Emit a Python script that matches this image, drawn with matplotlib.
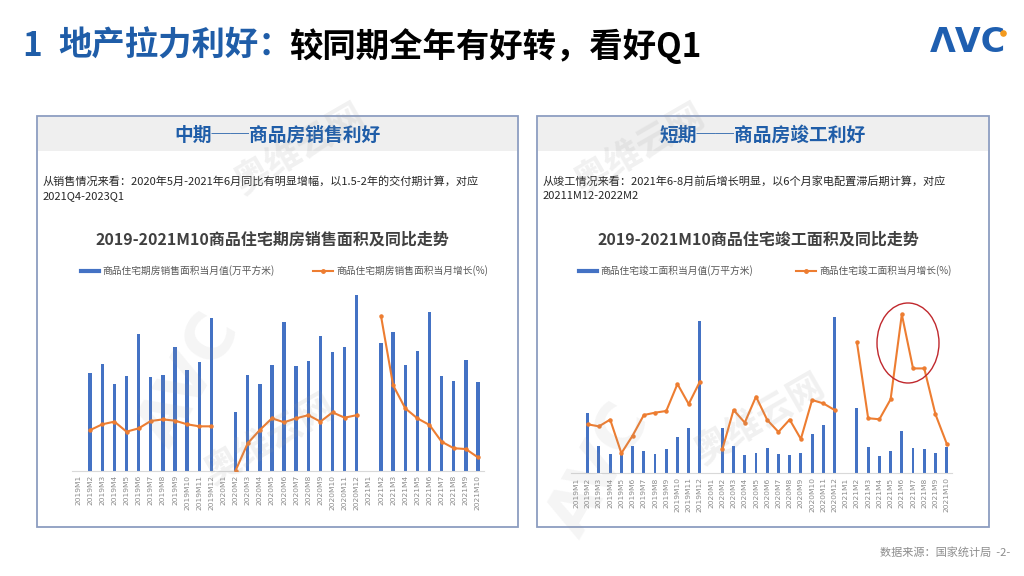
import numpy as np
import matplotlib.pyplot as plt
from matplotlib.patches import Rectangle, Ellipse

plt.rcParams['font.family'] = ['Noto Sans CJK SC', 'DejaVu Sans']

# 横轴月份（1、2月合并公布，M1 为空）
months = [f"{y}M{m}" for y in (2019, 2020) for m in range(1, 13)] + [f"2021M{m}" for m in range(1, 11)]

nan = np.nan
# 商品住宅期房销售面积当月值（万平方米）
sales_area = [nan, 8760, 9630, 7770, 8490, 12300, 8400, 8580, 11160, 9090, 9810, 13770,
              nan, 5310, 8580, 7830, 9540, 13410, 9390, 9900, 12150, 10710, 11160, 15810,
              nan, 11490, 12480, 9540, 10800, 14280, 8490, 8100, 9990, 8010]
# 商品住宅期房销售面积当月增长（%）
sales_yoy = [nan, -1.0, 4.4, 6.9, -2.5, 0.6, 7.5, 9.0, 7.8, 4.4, 2.5, 2.5,
             nan, -39.0, -13.4, -0.9, 10.0, 6.3, 10.0, 13.0, 6.9, 15.6, 10.6, 13.0,
             nan, 106.0, 41.0, 19.4, 10.0, 3.8, -11.9, -18.0, -18.8, -26.6]

# 商品住宅竣工面积当月值（万平方米）
comp_area = [nan, 10800, 4860, 3420, 3300, 4860, 4020, 3420, 4380, 6480, 8100, 27420,
             nan, 8100, 4860, 3240, 3600, 4500, 3420, 3240, 3600, 7020, 8640, 28140,
             nan, 11820, 4680, 3060, 4020, 7560, 4500, 4320, 3600, 4800]
# 商品住宅竣工面积当月增长（%）
comp_yoy = [nan, -8.1, -9.3, -5.3, -25.2, -14.8, -2.6, -1.2, -0.2, 15.8, 3.9, 17.2,
            nan, -22.9, 0.4, -7.1, 8.3, -5.5, -12.6, -5.3, -16.8, 6.3, 4.3, 0.4,
            nan, 40.4, -4.5, -5.1, 6.7, 57.0, 25.0, 25.0, -2.2, -19.5]

BLUE = '#4472C4'
ORANGE = '#ED7D31'
TITLE_BLUE = '#1F5DA8'

fig = plt.figure(figsize=(10.24, 5.76), dpi=100)

# 背景层，像素坐标
bg = fig.add_axes([0, 0, 1, 1], zorder=0)
bg.set_xlim(0, 1024)
bg.set_ylim(576, 0)
bg.axis('off')

# 标题
bg.text(22, 46, "1", fontsize=24, fontweight='bold', color=TITLE_BLUE, va='center')
bg.text(58, 46, "地产拉力利好：", fontsize=24, fontweight='bold', color=TITLE_BLUE, va='center')
bg.text(289, 46, "较同期全年有好转，看好Q1", fontsize=24, fontweight='bold', color='black', va='center')

# logo
bg.text(930, 42, "ΛVC", fontsize=24, fontweight='bold', color='#1F5FB0', va='center',
        family='DejaVu Sans')
bg.scatter([1003], [33], s=14, color='#F39A1E', zorder=3)

# 面板
panels = [
    dict(x0=37, x1=518, head="中期──商品房销售利好",
         desc="从销售情况来看：2020年5月-2021年6月同比有明显增幅，以1.5-2年的交付期计算，对应",
         desc2="2021Q4-2023Q1",
         title="2019-2021M10商品住宅期房销售面积及同比走势",
         leg1="商品住宅期房销售面积当月值(万平方米)", leg2="商品住宅期房销售面积当月增长(%)",
         lx1=81, lx2=313),
    dict(x0=537, x1=989, head="短期──商品房竣工利好",
         desc="从竣工情况来看：2021年6-8月前后增长明显，以6个月家电配置滞后期计算，对应",
         desc2="20211M12-2022M2",
         title="2019-2021M10商品住宅竣工面积及同比走势",
         leg1="商品住宅竣工面积当月值(万平方米)", leg2="商品住宅竣工面积当月增长(%)",
         lx1=579, lx2=796),
]
for p in panels:
    w = p['x1'] - p['x0']
    bg.add_patch(Rectangle((p['x0'], 116), w, 411, facecolor='white',
                           edgecolor='#8C9DC0', lw=1.3))
    bg.add_patch(Rectangle((p['x0'] + 1, 117), w - 2, 34, facecolor='#EFEFEF', lw=0))
    cx = (p['x0'] + p['x1']) / 2
    bg.text(cx, 135, p['head'], fontsize=13.5, fontweight='bold', color=TITLE_BLUE,
            ha='center', va='center')
    bg.text(p['x0'] + 6, 181, p['desc'], fontsize=8, color='#262626', va='center')
    bg.text(p['x0'] + 6, 196, p['desc2'], fontsize=8, color='#262626', va='center')
    bg.text(cx - 5, 240, p['title'], fontsize=11.5, fontweight='bold', color='#404040',
            ha='center', va='center')
    # 图例
    bg.plot([p['lx1'], p['lx1'] + 18], [271, 271], color=BLUE, lw=3)
    bg.text(p['lx1'] + 21, 271, p['leg1'], fontsize=7, color='#595959', va='center')
    bg.plot([p['lx2'], p['lx2'] + 20], [271, 271], color=ORANGE, lw=1.5)
    bg.plot([p['lx2'] + 10], [271], 'o', color=ORANGE, ms=2.5)
    bg.text(p['lx2'] + 23, 271, p['leg2'], fontsize=7, color='#595959', va='center')

# 数据来源
bg.text(1010, 552, "数据来源：国家统计局  -2-", fontsize=8, color='#8C8C8C',
        ha='right', va='center')


def draw_chart(rect, area, yoy, ylim1, ylim2, width):
    ax = fig.add_axes(rect, zorder=1)
    x = np.arange(len(months))
    ax.bar(x, area, width=width, color=BLUE, zorder=2)
    ax.set_xlim(-0.5, len(months) - 0.5)
    ax.set_ylim(*ylim1)
    ax.set_xticks(x)
    ax.set_xticklabels(months, rotation=90, fontsize=5.4, color='#8C8C8C', family='DejaVu Sans')
    ax.tick_params(axis='x', length=0, pad=3)
    ax.set_yticks([])
    for s in ['top', 'left', 'right']:
        ax.spines[s].set_visible(False)
    ax.spines['bottom'].set_color('#D9D9D9')
    ax.patch.set_alpha(0)
    ax2 = ax.twinx()
    ax2.plot(x, yoy, color=ORANGE, lw=1.5, marker='o', ms=2.2)
    ax2.set_ylim(*ylim2)
    ax2.set_yticks([])
    for s in ax2.spines.values():
        s.set_visible(False)
    return ax, ax2


draw_chart([72 / 1024, 1 - 470.7 / 576, 412 / 1024, 185.7 / 576],
           sales_area, sales_yoy, (0, 16710), (-39.1, 135), 0.28)
draw_chart([570.9 / 1024, 1 - 473.3 / 576, 381.4 / 1024, 188.3 / 576],
           comp_area, comp_yoy, (0, 33900), (-37.1, 74.4), 0.26)

# 红圈标注
ov = fig.add_axes([0, 0, 1, 1], zorder=5)
ov.set_xlim(0, 1024)
ov.set_ylim(576, 0)
ov.axis('off')
ov.add_patch(Ellipse((908, 343), 62, 80, fill=False, edgecolor='#C0282D', lw=1))

# 水印
for (wx, wy) in [(300, 150), (270, 440), (640, 150), (760, 420)]:
    ov.text(wx, wy, "奥维云网", fontsize=26, fontweight='bold', color='#9A9A9A', alpha=0.14,
            rotation=30, ha='center', va='center')
for (wx, wy) in [(190, 380), (600, 470)]:
    ov.text(wx, wy, "AVC", fontsize=46, fontweight='bold', color='#9A9A9A', alpha=0.1,
            rotation=60, ha='center', va='center', family='DejaVu Sans')

fig.savefig("out.png", dpi=100)
